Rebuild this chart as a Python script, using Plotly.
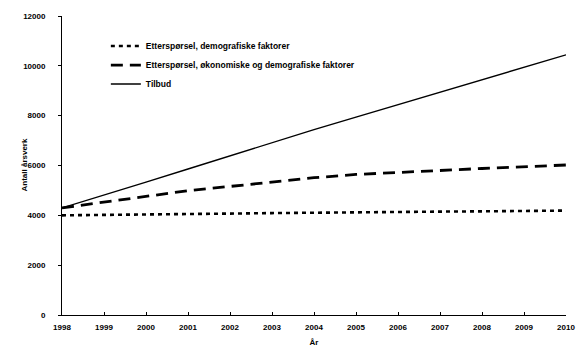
import plotly.graph_objects as go

years = list(range(1998, 2011))
demografisk = [4000, 4010, 4030, 4050, 4070, 4090, 4110, 4130, 4140, 4150, 4160, 4170, 4190]
okonomisk = [4300, 4520, 4760, 4990, 5160, 5350, 5510, 5640, 5710, 5800, 5880, 5940, 6020]
tilbud = [4300, 4800, 5330, 5860, 6390, 6920, 7440, 7940, 8440, 8940, 9440, 9940, 10440]

y_ticks = list(range(0, 12001, 2000))

names = [
    "Etterspørsel, demografiske faktorer",
    "Etterspørsel, økonomiske og demografiske faktorer",
    "Tilbud",
]
x_title = "År"
y_title = "Antall årsverk"

FONT = "Liberation Sans, Arial, sans-serif"

fig = go.Figure()
fig.add_trace(go.Scatter(x=years, y=demografisk, mode="lines", name=names[0],
                         line=dict(color="black", width=2.6, dash="4px,4px")))
fig.add_trace(go.Scatter(x=years, y=okonomisk, mode="lines", name=names[1],
                         line=dict(color="black", width=2.8, dash="12px,7px")))
fig.add_trace(go.Scatter(x=years, y=tilbud, mode="lines", name=names[2],
                         line=dict(color="black", width=1.4)))

fig.update_layout(
    width=583, height=364,
    margin=dict(l=62, r=17, t=16, b=49),
    paper_bgcolor="white", plot_bgcolor="white",
    font=dict(family=FONT, size=8, color="black", weight="bold"),
    showlegend=True,
    legend=dict(x=0.087, y=0.948, xanchor="left", yanchor="top",
                bgcolor="rgba(0,0,0,0)",
                font=dict(family=FONT, size=8.5, color="black", weight="bold"),
                itemwidth=30, tracegroupgap=0),
    xaxis=dict(range=[1998, 2010], tickmode="array", tickvals=years,
               ticktext=[str(y) for y in years], automargin=False,
               showgrid=False, zeroline=False, showline=True, linecolor="black", linewidth=1,
               ticks="inside", ticklen=3, tickcolor="black", ticklabelstandoff=4,
               title=dict(text=x_title, standoff=8, font=dict(size=8, weight="bold")),
               tickfont=dict(family=FONT, size=8, weight="bold")),
    yaxis=dict(range=[0, 12000], tickmode="array", tickvals=y_ticks,
               ticktext=[str(v) for v in y_ticks], automargin=False,
               showgrid=False, zeroline=False, showline=True, linecolor="black", linewidth=1,
               ticks="outside", ticklen=3, tickcolor="black", ticklabelstandoff=11,
               tickfont=dict(family=FONT, size=8, weight="bold")),
    annotations=[dict(text=y_title, xref="paper", yref="paper", x=0, y=0.5,
                      xanchor="center", yanchor="middle", xshift=-38, textangle=-90,
                      showarrow=False, font=dict(family=FONT, size=8, weight="bold"))],
)

fig.write_html("out.html", config={"displayModeBar": False},
               post_script="document.body.style.margin='0';")
